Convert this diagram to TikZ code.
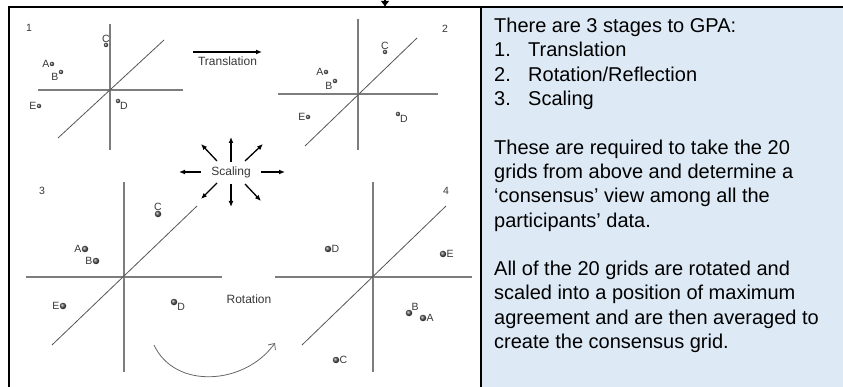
\documentclass[tikz,border=0pt]{standalone}
\usepackage{fontspec}
\setmainfont{Liberation Sans}
\usetikzlibrary{arrows.meta}
\definecolor{PanelBlue}{RGB}{221,233,245}
\definecolor{AxisGray}{RGB}{125,125,125}
\definecolor{DiagGray}{RGB}{85,85,85}
\definecolor{LabelGray}{RGB}{55,55,55}
\newcommand{\stagenum}[1]{\makebox[34pt][l]{#1}}

\begin{document}
\begin{tikzpicture}[
    x=1pt,
    y=-1pt,
    font=\fontsize{10.5}{12}\selectfont,
    frame/.style={
        draw=black,
        line width=1.8pt
    },
    axis/.style={
        draw=AxisGray,
        line width=1.4pt
    },
    diag/.style={
        draw=DiagGray,
        line width=0.8pt
    },
    dot/.style={
        circle,
        inner sep=0pt,
        minimum size=4.5pt,
        shading=ball,
        ball color=gray!70!black,
        label distance=1.5pt
    },
    bigdot/.style={
        dot,
        minimum size=6.5pt
    },
    every label/.append style={text=LabelGray, inner sep=0pt},
    panelnum/.style={text=LabelGray, inner sep=0pt},
    caption/.style={
        text=LabelGray,
        inner sep=0pt,
        font=\fontsize{12}{14}\selectfont
    },
    move/.style={
        -{Latex[length=6pt,width=5pt]},
        line width=1.3pt,
        draw=black
    },
    turn/.style={
        -{Straight Barb[length=5pt,width=9pt]},
        draw=gray!80!black,
        line width=0.8pt
    },
    infotext/.style={
        align=left,
        inner sep=0pt,
        font=\fontsize{20}{24.3}\selectfont
    }
]
\useasboundingbox (0,0) rectangle (843,387);

% text panel and frame
\fill[PanelBlue] (481,7) rectangle (843,387);
\draw[frame] (9,387) -- (9,7) -- (843,7);
\draw[frame] (481,7) -- (481,387);

\coordinate (feed-top) at (385,-4);
\coordinate (feed-end) at (385,7);
\draw[-{Latex[length=6pt,width=9pt]}, line width=1.5pt] (feed-top) -- (feed-end);

% panel 1
\node[panelnum] (n1) at (29,28) {1};
\draw[axis] (110,24) -- (110,150);
\draw[axis] (38,90) -- (183,90);
\draw[diag] (58,138) -- (164,40);
\node[dot, label=left:A] (a1) at (52,64) {};
\node[dot, label=200:B] (b1) at (61,72) {};
\node[dot, label=above:C] (c1) at (106,45) {};
\node[dot, label=-40:D] (d1) at (118,101) {};
\node[dot, label=left:E] (e1) at (39,106) {};

\coordinate (tl-start) at (193,52);
\coordinate (tl-end) at (262,52);
\draw[move, line width=1.6pt] (tl-start) -- node[caption, below=4pt] {Translation} (tl-end);

% panel 2
\node[panelnum] (n2) at (445,29) {2};
\draw[axis] (358,19) -- (358,150);
\draw[axis] (278,94) -- (438,94);
\draw[diag] (305,146) -- (417,38);
\node[dot, label=left:A] (a2) at (326,72) {};
\node[dot, label=200:B] (b2) at (335,81) {};
\node[dot, label=above:C] (c2) at (385,52) {};
\node[dot, label=-35:D] (d2) at (398,114) {};
\node[dot, label=left:E] (e2) at (308,117) {};

% scaling
\node[caption] (scaling) at (231,172) {Scaling};
\foreach \sx/\sy/\ex/\ey in {30/0/54/0, 14/-11/32/-28, 0/-10/0/-35, -14/-11/-30/-28,
    -30/0/-52/0, -14/11/-30/27, 0/12/0/35, 14/12/30/29}
    \draw[move] ([shift={(\sx,\sy)}]scaling.center) -- ([shift={(\ex,\ey)}]scaling.center);

% panel 3
\node[panelnum] (n3) at (42,191) {3};
\draw[axis] (124,182) -- (124,372);
\draw[axis] (26,277) -- (222,277);
\draw[diag] (52,345) -- (197,206);
\node[bigdot, label=left:A] (a3) at (85,249) {};
\node[bigdot, label=left:B] (b3) at (96,261) {};
\node[bigdot, label=above:C] (c3) at (158,214) {};
\node[bigdot, label=-20:D] (d3) at (174,302) {};
\node[bigdot, label=left:E] (e3) at (63,306) {};

% rotation
\node[caption] (rotation) at (249,299) {Rotation};
\coordinate (rot-start) at (154,345);
\coordinate (rot-end) at (275,343);
\draw[turn] (rot-start) .. controls (175,390) and (245,385) .. (rot-end);

% panel 4
\node[panelnum] (n4) at (446,191) {4};
\draw[axis] (373,182) -- (373,372);
\draw[axis] (275,277) -- (472,277);
\draw[diag] (302,345) -- (446,206);
\node[bigdot, label=right:A] (a4) at (423,318) {};
\node[bigdot, label=45:B] (b4) at (409,313) {};
\node[bigdot, label=right:C] (c4) at (336,360) {};
\node[bigdot, label=right:D] (d4) at (328,249) {};
\node[bigdot, label=right:E] (e4) at (443,254) {};

% stages text
\node[infotext, anchor=north west] (info) at (494,18) {There are 3 stages to GPA:\\
\stagenum{1.}Translation\\
\stagenum{2.}Rotation/Reflection\\
\stagenum{3.}Scaling\\[24.3pt]
These are required to take the 20\\
grids from above and determine a\\
`consensus' view among all the\\
participants' data.\\[24.3pt]
All of the 20 grids are rotated and\\
scaled into a position of maximum\\
agreement and are then averaged to\\
create the consensus grid.};

\end{tikzpicture}
\end{document}
